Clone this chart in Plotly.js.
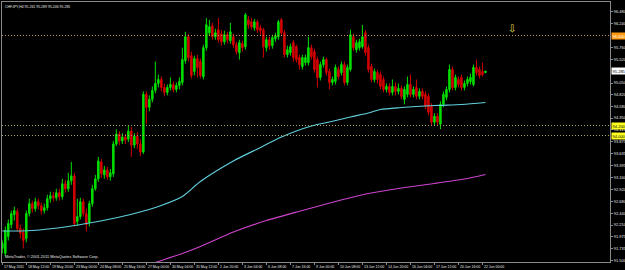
<!DOCTYPE html>
<html>
<head>
<meta charset="utf-8">
<script src="https://cdn.plot.ly/plotly-3.0.1.min.js"></script>
<style>html,body{margin:0;padding:0;background:#000;}#chart{width:625px;height:270px;}</style>
</head>
<body>
<div id="chart"></div>
<script>
// CHFJPY H4 candles (bar index 0 = leftmost)
const openP = [
91.742,91.643,91.981,92.219,92.418,92.478,92.140,92.060,91.941,92.438,
92.637,92.537,92.676,92.597,92.498,92.557,92.736,92.796,92.756,92.855,
92.776,93.034,92.935,93.094,93.193,92.279,92.378,92.676,92.438,92.259,
92.637,92.935,93.133,93.471,93.213,93.312,93.173,93.233,93.829,94.028,
93.888,93.968,93.928,94.087,93.809,93.988,93.829,93.670,94.822,94.564,
94.723,94.902,95.041,95.120,94.961,94.862,94.961,95.021,94.922,95.001,
95.061,95.498,95.975,95.597,95.279,95.538,95.478,95.180,95.756,96.054,
96.193,95.975,96.114,96.034,95.875,96.015,95.895,95.975,95.816,95.657,
95.836,95.776,96.313,96.273,96.154,96.273,96.154,96.114,95.756,95.915,
95.796,95.935,95.975,96.313,96.054,95.617,95.657,95.856,95.776,95.558,
95.379,95.458,95.458,95.756,95.677,95.518,95.160,95.418,95.518,95.279,
95.061,95.081,95.319,95.259,95.418,95.061,95.319,95.975,95.716,95.756,
95.776,96.054,95.756,95.379,95.120,95.259,95.220,95.120,94.922,94.981,
94.862,94.981,94.882,94.942,94.723,94.822,95.021,94.822,94.961,94.783,
94.882,94.822,94.783,94.584,94.266,94.385,94.226,94.624,94.763,94.922,
95.319,94.961,95.120,95.160,94.961,95.041,95.081,95.021,95.359,95.319,
95.279,95.261];
const highP = [
91.901,92.180,92.319,92.498,92.577,92.537,92.219,92.140,92.498,92.736,
92.696,92.756,92.736,92.657,92.637,92.815,92.875,92.875,92.935,92.935,
93.133,93.114,93.253,93.471,93.253,92.736,92.756,92.736,92.537,92.696,
93.014,93.213,93.571,93.531,93.392,93.372,93.332,93.888,94.127,94.087,
94.047,94.028,94.206,94.167,94.047,94.067,93.928,94.882,94.882,94.802,
94.981,95.478,95.220,95.180,95.041,95.021,95.160,95.081,95.061,95.160,
95.756,96.074,96.034,95.677,95.597,95.617,95.538,95.816,96.352,96.313,
96.253,96.134,96.352,96.114,96.094,96.074,96.253,96.034,95.875,95.915,
95.895,96.452,96.392,96.352,96.332,96.313,96.213,96.154,95.975,95.975,
96.015,96.054,96.313,96.352,96.114,95.796,95.836,95.915,95.816,95.617,
95.617,95.617,95.975,95.816,95.736,95.577,95.478,95.577,95.558,95.339,
95.180,95.418,95.379,95.478,95.478,95.418,96.114,96.034,95.915,95.935,
96.213,96.114,95.816,95.438,95.339,95.319,95.279,95.180,95.041,95.041,
95.120,95.061,95.041,95.001,94.981,95.180,95.220,94.981,95.120,94.942,
94.942,94.882,94.842,94.644,94.445,94.445,94.683,94.882,94.981,95.418,
95.379,95.220,95.180,95.220,95.101,95.180,95.240,95.418,95.518,95.379,
95.458,95.289];
const lowP = [
91.643,91.584,91.901,92.140,92.299,92.080,91.941,91.742,91.862,92.378,
92.458,92.478,92.517,92.418,92.438,92.498,92.657,92.676,92.696,92.696,
92.716,92.855,92.875,93.014,92.180,92.200,92.319,92.378,92.080,92.180,
92.577,92.895,93.074,93.153,93.133,93.114,93.094,93.173,93.789,93.809,
93.829,93.829,93.869,93.571,93.749,93.729,93.590,93.630,94.226,94.485,
94.663,94.842,94.961,94.882,94.783,94.802,94.902,94.862,94.862,94.922,
95.001,95.438,95.478,95.140,95.200,95.160,95.140,95.120,95.697,95.995,
95.915,95.915,95.856,95.796,95.816,95.836,95.836,95.756,95.617,95.518,
95.677,95.716,96.134,96.114,96.094,96.054,96.015,95.558,95.677,95.716,
95.736,95.875,95.915,95.995,95.558,95.558,95.597,95.478,95.458,95.319,
95.319,95.399,95.399,95.518,95.259,94.961,95.101,95.359,95.200,94.922,
95.001,95.021,95.120,95.200,95.001,95.001,95.279,95.697,95.657,95.697,
95.736,95.597,95.259,95.061,95.061,95.041,94.922,94.862,94.862,94.802,
94.802,94.802,94.822,94.723,94.624,94.763,94.763,94.763,94.723,94.723,
94.723,94.524,94.405,94.206,94.206,94.206,94.127,94.564,94.703,94.862,
94.902,94.902,94.961,94.902,94.902,94.981,95.021,94.981,95.200,95.140,
95.180,95.246];
const closeP = [
91.842,92.100,92.239,92.438,92.498,92.140,92.041,91.901,92.438,92.637,
92.537,92.676,92.597,92.498,92.557,92.736,92.796,92.756,92.855,92.776,
93.034,92.935,93.094,93.193,92.239,92.378,92.676,92.438,92.219,92.637,
92.935,93.133,93.491,93.233,93.312,93.173,93.253,93.829,94.028,93.888,
93.968,93.908,94.087,93.809,93.988,93.829,93.670,94.822,94.564,94.723,
94.902,95.041,95.120,94.961,94.862,94.961,95.021,94.922,95.001,95.081,
95.518,95.975,95.558,95.200,95.538,95.359,95.200,95.756,96.213,96.174,
95.975,96.054,95.915,95.875,96.015,95.915,96.074,95.816,95.677,95.856,
95.756,96.412,96.213,96.174,96.273,96.114,96.094,95.776,95.915,95.796,
95.955,95.995,96.273,96.054,95.617,95.716,95.776,95.558,95.518,95.418,
95.558,95.558,95.756,95.577,95.319,95.160,95.418,95.518,95.259,95.061,
95.120,95.359,95.180,95.418,95.061,95.359,96.015,95.756,95.856,95.875,
95.975,95.657,95.319,95.120,95.279,95.120,94.981,94.922,94.981,94.862,
94.981,94.882,94.942,94.783,94.922,95.021,94.822,94.922,94.783,94.882,
94.783,94.584,94.465,94.266,94.385,94.266,94.624,94.822,94.922,95.319,
94.961,95.160,95.021,94.961,95.041,95.120,95.160,95.359,95.259,95.200,
95.220,95.285];

// moving averages read at sample bars
const cyanBar = [0, 10, 22, 30, 36, 44, 52, 60, 66, 77, 85, 93, 103, 109, 116, 122, 126, 133, 144, 153, 161];
const cyanVal = [92.09, 92.10, 92.18, 92.26, 92.33, 92.44, 92.58, 92.78, 93.08, 93.49, 93.73, 93.97, 94.19, 94.27, 94.37, 94.45, 94.52, 94.56, 94.60, 94.62, 94.66];
const magBar = [46, 52, 60, 66, 77, 88, 100, 111, 122, 133, 144, 154, 161];
const magVal = [91.36, 91.48, 91.64, 91.78, 92.07, 92.30, 92.50, 92.68, 92.84, 92.95, 93.04, 93.13, 93.22];

// horizontal levels
const levelOrange = [96.000];
const levelYellow = [94.200, 94.000];

// time axis labels (every 8 bars)
const timeTickBars = [0,8,16,24,32,40,48,56,64,72,80,88,96,104,112,120,128,136,144,152,160];
const timeTickText = ["17 May 2011","18 May 12:00","19 May 20:00","23 May 00:00","24 May 08:00","25 May 16:00","27 May 00:00","30 May 04:00","31 May 12:00","1 Jun 20:00","3 Jun 04:00","6 Jun 08:00","7 Jun 16:00","9 Jun 00:00","10 Jun 08:00","13 Jun 12:00","14 Jun 20:00","16 Jun 04:00","17 Jun 12:00","20 Jun 16:00","22 Jun 00:00"];

// price axis labels
const priceTicks = [96.48, 96.24, 95.76, 95.52, 95.05, 94.82, 94.58, 94.35, 94.115, 93.875, 93.635, 93.395, 93.16, 92.92, 92.68, 92.44, 92.21, 91.975, 91.735, 91.5];
const priceTickText = ["96.480","96.240","95.760","95.520","95.050","94.820","94.580","94.350","94.115","93.875","93.635","93.395","93.160","92.920","92.680","92.440","92.210","91.975","91.735","91.500"];

// arrow object
const arrowBar = [170];
const arrowPrice = [96.15];

const bars = closeP.map((_, i) => i);
const n = closeP.length;
const lastO = openP[n-1], lastH = highP[n-1], lastL = lowP[n-1], lastC = closeP[n-1];

const F = "Liberation Sans, Arial, sans-serif";
const FS = 4;
const FX = 3.5;

const traces = [
  {
    type: 'candlestick', x: bars, open: openP, high: highP, low: lowP, close: closeP,
    increasing: {line: {color: '#00e000', width: 1}, fillcolor: '#00e000'},
    decreasing: {line: {color: '#d40000', width: 1}, fillcolor: '#d40000'},
    whiskerwidth: 0, hoverinfo: 'skip', showlegend: false
  },
  {
    type: 'scatter', mode: 'lines', x: cyanBar, y: cyanVal,
    line: {color: '#5fd0dc', width: 1.2, shape: 'spline', smoothing: 0.8},
    hoverinfo: 'skip', showlegend: false
  },
  {
    type: 'scatter', mode: 'lines', x: magBar, y: magVal,
    line: {color: '#cc44cc', width: 1.2, shape: 'spline', smoothing: 0.6},
    hoverinfo: 'skip', showlegend: false
  }
];

const shapes = levelOrange.map(v => ({
  type: 'line', xref: 'paper', x0: 0, x1: 1, yref: 'y', y0: v, y1: v,
  line: {color: '#c09a5a', width: 1, dash: '1px,2px'}
})).concat(levelYellow.map(v => ({
  type: 'line', xref: 'paper', x0: 0, x1: 1, yref: 'y', y0: v, y1: v,
  line: {color: '#b0a86a', width: 1, dash: '1px,2px'}
})));

const annotations = [
  {xref: 'paper', yref: 'paper', x: 0, y: 1, xanchor: 'left', yanchor: 'top', xshift: 1, yshift: -1,
   text: 'CHFJPY,H4 ' + lastO.toFixed(3) + ' ' + lastH.toFixed(3) + ' ' + lastL.toFixed(3) + ' ' + lastC.toFixed(3),
   showarrow: false, font: {family: F, size: 3.5, color: '#e8e8e8'}},
  {xref: 'paper', yref: 'paper', x: 0, y: 0, xanchor: 'left', yanchor: 'bottom', xshift: 1, yshift: 1,
   text: 'MetaTrader, © 2001-2011 MetaQuotes Software Corp.',
   showarrow: false, font: {family: F, size: 3.9, color: '#e8e8e8'}},
  {xref: 'x', yref: 'y', x: arrowBar[0], y: arrowPrice[0], text: '⇩', showarrow: false,
   font: {family: 'DejaVu Sans', size: 10, color: '#e8e050'}}
];
// time labels, left-aligned just right of their tick marks
timeTickBars.forEach((b, k) => annotations.push({xref: 'x', x: b, xanchor: 'left', xshift: 0.5,
  yref: 'paper', y: 0, yanchor: 'top', yshift: -1.5, text: timeTickText[k], showarrow: false,
  borderpad: 0, font: {family: F, size: FX, color: '#e8e8e8'}}));
levelOrange.forEach(v => annotations.push({xref: 'paper', x: 1, xanchor: 'left', xshift: 1, yref: 'y', y: v,
  text: v.toFixed(3), showarrow: false, bgcolor: '#ff9a10', borderpad: 0.6,
  font: {family: F, size: FS, color: '#ffffff'}}));
levelYellow.forEach(v => annotations.push({xref: 'paper', x: 1, xanchor: 'left', xshift: 1, yref: 'y', y: v,
  text: v.toFixed(3), showarrow: false, bgcolor: '#ffff20', borderpad: 0.6,
  font: {family: F, size: FS, color: '#000000'}}));
annotations.push({xref: 'paper', x: 1, xanchor: 'left', xshift: 1, yref: 'y', y: lastC,
  text: lastC.toFixed(3), showarrow: false, bgcolor: '#ffffff', borderpad: 0.6,
  font: {family: F, size: FS, color: '#000000'}});

const layout = {
  width: 625, height: 270,
  margin: {l: 2, r: 15, t: 2, b: 8, pad: 0},
  paper_bgcolor: '#000000', plot_bgcolor: '#000000',
  showlegend: false,
  xaxis: {
    range: [-0.1, 202.5], showgrid: false, zeroline: false,
    rangeslider: {visible: false},
    showline: true, mirror: true, linecolor: '#8a8a8a', linewidth: 1,
    tickmode: 'array', tickvals: timeTickBars, showticklabels: false,
    ticks: 'outside', ticklen: 2, tickcolor: '#8a8a8a', tickwidth: 1,
    fixedrange: true
  },
  yaxis: {
    range: [91.47, 96.67], side: 'right', showgrid: false, zeroline: false,
    showline: true, mirror: true, linecolor: '#8a8a8a', linewidth: 1,
    tickmode: 'array', tickvals: priceTicks, ticktext: priceTickText,
    ticks: 'outside', ticklen: 2, tickcolor: '#8a8a8a', tickwidth: 1,
    tickfont: {family: F, size: FS, color: '#e8e8e8'}, fixedrange: true
  },
  shapes: shapes,
  annotations: annotations
};

Plotly.newPlot('chart', traces, layout, {staticPlot: true, displayModeBar: false});
</script>
</body>
</html>
